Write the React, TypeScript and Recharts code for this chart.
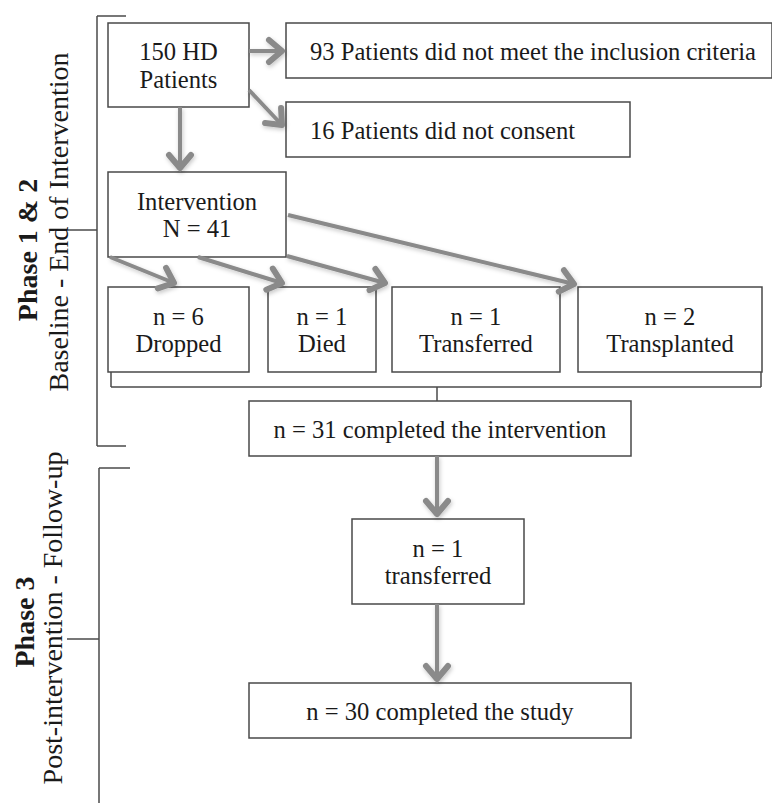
import { ComposedChart, XAxis, YAxis, ReferenceArea, ReferenceLine, Scatter } from "recharts";

const W = 772;
const H = 803;

const FONT = '"Liberation Serif", "Times New Roman", serif';
const ARROW = "#8a8a8a";
const EDGE = "#4a4a4a";
const INK = "#1a1a1a";

// flowchart boxes, in diagram units (same as page pixels)
const boxLines = [
  ["150 HD", "Patients"],
  ["93 Patients did not meet the inclusion criteria"],
  ["16 Patients did not consent"],
  ["Intervention", "N = 41"],
  ["n = 6", "Dropped"],
  ["n = 1", "Died"],
  ["n = 1", "Transferred"],
  ["n = 2", "Transplanted"],
  ["n = 31 completed the intervention"],
  ["n = 1", "transferred"],
  ["n = 30 completed the study"],
];
const boxX = [
  [108, 249], [286, 772], [286, 630], [108, 286], [108, 249], [268, 376],
  [392, 560], [578, 762], [249, 631], [352, 524], [249, 631],
];
const boxY = [
  [23, 107], [23, 78], [102, 157], [172, 257], [287, 372], [287, 372],
  [287, 372], [287, 372], [401, 456], [519, 604], [683, 738],
];
const boxLeftAligned = [false, true, true, false, false, false, false, false, false, false, false];

const arrowFrom = [
  [180, 107], [249, 51], [249, 90], [110, 257], [198, 257],
  [287, 256], [288, 215], [437, 456], [437, 604],
];
const arrowTo = [
  [180, 168], [282, 51], [282, 125], [174, 283], [282, 283],
  [385, 283], [574, 284], [437, 514], [437, 679],
];

// phase brackets and the merge bracket under the drop-out row
const bracketFrom = [
  [97, 16], [97, 16], [97, 446], [68, 230],
  [99, 468], [99, 468], [67, 639],
  [111, 372], [111, 387], [761, 372], [437, 387],
];
const bracketTo = [
  [126, 16], [97, 446], [126, 446], [97, 230],
  [130, 468], [99, 803], [99, 639],
  [111, 387], [761, 387], [761, 387], [437, 401],
];

const sideText = ["Phase 1 & 2", "Baseline - End of Intervention", "Phase 3", "Post-intervention - Follow-up"];
const sideX = [37, 68, 34, 62];
const sideY = [250, 222, 622, 618];
const sideBold = [true, false, true, false];

const boxLabelData = boxLines.map((lines, i) => ({
  x: boxLeftAligned[i] ? boxX[i][0] + 24 : (boxX[i][0] + boxX[i][1]) / 2,
  y: (boxY[i][0] + boxY[i][1]) / 2,
  lines,
  left: boxLeftAligned[i],
}));

const sideLabelData = sideText.map((text, i) => ({
  x: sideX[i],
  y: sideY[i],
  text,
  bold: sideBold[i],
}));

const BoxLabel = (props: any) => {
  const { cx, cy, payload } = props;
  const n = payload.lines.length;
  return (
    <text
      x={cx}
      y={cy}
      textAnchor={payload.left ? "start" : "middle"}
      fontFamily={FONT}
      fontSize={24.6}
      fill={INK}
    >
      {payload.lines.map((t: string, k: number) => (
        <tspan key={k} x={cx} y={cy + (k - (n - 1) / 2) * 27.5 + 9}>
          {t}
        </tspan>
      ))}
    </text>
  );
};

const SideLabel = (props: any) => {
  const { cx, cy, payload } = props;
  return (
    <text
      x={cx}
      y={cy}
      transform={`rotate(-90 ${cx} ${cy})`}
      textAnchor="middle"
      fontFamily={FONT}
      fontSize={28}
      fontWeight={payload.bold ? "bold" : "normal"}
      fill={INK}
    >
      {payload.text}
    </text>
  );
};

export default function App() {
  return (
    <div style={{ position: "absolute", left: 0, top: 0, width: W, height: H, background: "#fff" }}>
      <ComposedChart width={W} height={H} margin={{ top: 0, right: 0, bottom: 0, left: 0 }}>
        <defs>
          <marker
            id="head"
            viewBox="-20 -16 24 32"
            refX={0}
            refY={0}
            markerWidth={24}
            markerHeight={32}
            markerUnits="userSpaceOnUse"
            orient="auto"
            overflow="visible"
          >
            <path
              d="M -13 -11 L 0 0 L -13 11"
              fill="none"
              stroke={ARROW}
              strokeWidth={6}
              strokeLinecap="round"
              strokeLinejoin="round"
            />
          </marker>
          <filter id="soft" filterUnits="userSpaceOnUse" x={0} y={0} width={W} height={H}>
            <feDropShadow dx={1} dy={2} stdDeviation={2} floodColor="#000" floodOpacity={0.22} />
          </filter>
        </defs>
        <XAxis type="number" dataKey="x" domain={[0, W]} hide allowDataOverflow height={0} />
        <YAxis type="number" dataKey="y" domain={[0, H]} reversed hide allowDataOverflow width={0} />

        {boxX.map((bx, i) => (
          <ReferenceArea
            key={`box-${i}`}
            x1={bx[0]}
            x2={bx[1]}
            y1={boxY[i][0]}
            y2={boxY[i][1]}
            fill="#fff"
            fillOpacity={1}
            stroke={EDGE}
            strokeWidth={1.5}
            ifOverflow="visible"
          />
        ))}

        {bracketFrom.map((p, i) => (
          <ReferenceLine
            key={`br-${i}`}
            segment={[
              { x: p[0], y: p[1] },
              { x: bracketTo[i][0], y: bracketTo[i][1] },
            ]}
            stroke={EDGE}
            strokeWidth={1.5}
            ifOverflow="visible"
          />
        ))}

        {arrowFrom.map((p, i) => (
          <ReferenceLine
            key={`ar-${i}`}
            segment={[
              { x: p[0], y: p[1] },
              { x: arrowTo[i][0], y: arrowTo[i][1] },
            ]}
            stroke={ARROW}
            strokeWidth={4}
            markerEnd="url(#head)"
            filter="url(#soft)"
            ifOverflow="visible"
            isFront
          />
        ))}

        <Scatter data={boxLabelData} shape={BoxLabel} isAnimationActive={false} />
        <Scatter data={sideLabelData} shape={SideLabel} isAnimationActive={false} />
      </ComposedChart>
    </div>
  );
}
